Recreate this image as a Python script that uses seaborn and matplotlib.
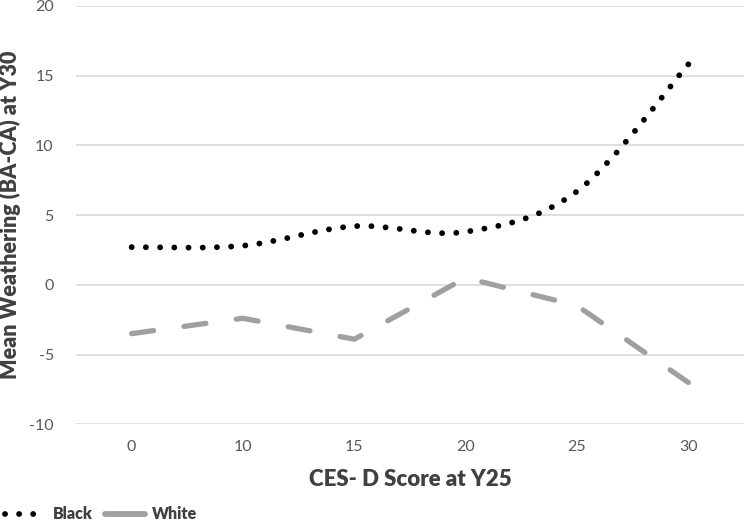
import matplotlib
matplotlib.use("Agg")
import matplotlib.pyplot as plt
from matplotlib.path import Path
from matplotlib.patches import PathPatch
from matplotlib.lines import Line2D
import numpy as np
import pandas as pd
import seaborn as sns

# ------------------------------------------------------------------ #
# Data                                        #
# ------------------------------------------------------------------ #
CES_D = ["0", "10", "15", "20", "25", "30"]
BLACK = [2.7, 2.8, 4.2, 3.8, 6.7, 15.8]
WHITE = [-3.5, -2.4, -3.9, 0.5, -1.5, -7.0]

GRID = "#d9d9d9"
TICK = "#595959"
LABEL = "#404040"
GRAY = "#a0a0a0"
DPI = 100

sns.set_theme(style="white")
plt.rcParams["font.family"] = ["Lato", "DejaVu Sans"]
plt.rcParams["axes.unicode_minus"] = False


def smooth_path(ys):
    # Excel-style smoothed line: cubic Bezier segments through each point
    pts = np.column_stack([np.arange(len(ys)), ys]).astype(float)
    ext = np.vstack([pts[0], pts, pts[-1]])
    verts = [tuple(pts[0])]
    codes = [Path.MOVETO]
    for i in range(len(pts) - 1):
        p0, p1, p2, p3 = ext[i], ext[i + 1], ext[i + 2], ext[i + 3]
        c1 = p1 + (p2 - p0) / 6.0
        c2 = p2 - (p3 - p1) / 6.0
        verts += [tuple(c1), tuple(c2), tuple(p2)]
        codes += [Path.CURVE4] * 3
    return Path(verts, codes)


def fit_dashes(path, ax, lw, on, off):
    # stretch the gap a little so the pattern ends with a mark on the last point
    poly = path.transformed(ax.transData).to_polygons(closed_only=False)[0]
    length = np.hypot(*np.diff(poly, axis=0).T).sum()
    lw_px = lw * DPI / 72.0
    n = max(1, round((length / lw_px - on) / (on + off)))
    return (0, (on, (length / lw_px - on) / n - on))


fig = plt.figure(figsize=(7.5, 5.23), dpi=DPI)
ax = fig.add_axes([0.1013, 0.1887, 0.8907, 0.8003])
ax.set_xlim(-0.5, len(CES_D) - 0.5)
ax.set_ylim(-10, 20)

x_pos = np.arange(len(CES_D))
white_path = Path(np.column_stack([x_pos, WHITE]))
black_path = smooth_path(BLACK)

df = pd.DataFrame({"score": CES_D, "white": WHITE})
sns.lineplot(
    data=df, x="score", y="white", ax=ax, color=GRAY, linewidth=3.8,
    linestyle=fit_dashes(white_path, ax, 3.8, 4.2, 5.4),
    dash_capstyle="round", solid_joinstyle="miter", sort=False,
)

patch = PathPatch(
    black_path, facecolor="none", edgecolor="black", linewidth=4.2,
    linestyle=fit_dashes(black_path, ax, 4.2, 0.01, 2.4), capstyle="round",
)
ax.add_patch(patch)

ax.set_xlim(-0.5, len(CES_D) - 0.5)
ax.set_ylim(-10, 20)
ax.set_yticks(range(-10, 21, 5))
ax.set_xticks(x_pos)
ax.set_xticklabels(CES_D)
ax.grid(axis="y", color=GRID, linewidth=1.2)
ax.set_axisbelow(True)
for s in ax.spines.values():
    s.set_visible(False)
ax.tick_params(axis="both", length=0, labelsize=11.5, labelcolor=TICK)
ax.tick_params(axis="x", pad=11)
ax.tick_params(axis="y", pad=16)

ax.set_xlabel("CES- D Score at Y25", fontsize=16, fontweight="heavy",
              color=LABEL, labelpad=11)
ax.set_ylabel("Mean Weathering (BA-CA) at Y30", fontsize=15.5,
              fontweight="heavy", color=LABEL, labelpad=6)

handles = [
    Line2D([], [], color="black", linewidth=4.2, linestyle=(0, (0.01, 2.4)),
           dash_capstyle="round"),
    Line2D([], [], color=GRAY, linewidth=4.2, solid_capstyle="round"),
]
fig.legend(handles, ["Black", "White"], loc="lower left",
           bbox_to_anchor=(-0.012, -0.026), ncol=2, frameon=False,
           handlelength=2.5, handletextpad=0.45, columnspacing=0.8,
           prop={"weight": "heavy", "size": 11.5}, labelcolor=LABEL)

fig.savefig("out.png", dpi=DPI)
